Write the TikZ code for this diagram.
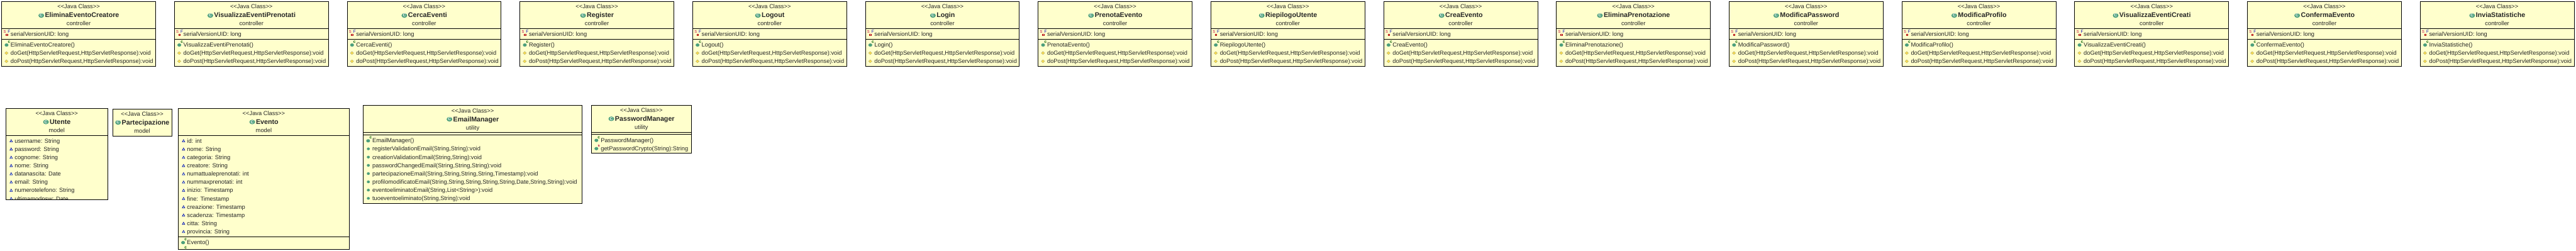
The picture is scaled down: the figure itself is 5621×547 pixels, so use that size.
\documentclass[tikz,border=0pt]{standalone}
\usepackage{fontspec}
\setmainfont{Liberation Sans}

\definecolor{boxyellow}{HTML}{FFFFCC}
\definecolor{icongreen}{HTML}{4C9F7C}
\definecolor{txtgray}{HTML}{262626}

\tikzset{
    classbox/.style={draw=black, fill=boxyellow, line width=1.1pt},
    sepline/.style={draw=black, line width=1.1pt},
    stereo/.style={anchor=base, inner sep=0pt, text=txtgray, font=\fontsize{12.8pt}{15pt}\selectfont},
    ctitle/.style={anchor=base, inner sep=0pt, text=black!85, font=\fontsize{14.7pt}{17pt}\selectfont\bfseries},
    member/.style={anchor=base west, inner sep=0pt, text=txtgray, font=\fontsize{12.8pt}{15pt}\selectfont},
    classicon/.pic={
        \fill[icongreen] (0,0) ellipse [x radius=6.2, y radius=5];
        \node[inner sep=0pt, text=white, font=\fontsize{9pt}{9pt}\selectfont\bfseries] (letter) at (0,0) {C};
    },
    fieldicon/.pic={
        \node[inner sep=0pt, text=purple, font=\fontsize{8pt}{8pt}\selectfont] (letter) at (-4,-5) {S};
        \node[inner sep=0pt, text=blue!70!black, font=\fontsize{9pt}{9pt}\selectfont] (flag) at (5.5,-5.8) {F};
        \draw[red!70!black, fill=white, line width=0.8pt] (-1.5,-0.5) rectangle (2,3);
    },
    ctoricon/.pic={
        \fill[icongreen] (0,0.5) ellipse [x radius=4.2, y radius=3.6];
        \node[inner sep=0pt, text=green!35!black, font=\fontsize{9pt}{9pt}\selectfont\bfseries] (letter) at (5.5,-6) {c};
    },
    staticicon/.pic={
        \fill[icongreen] (0,0.5) ellipse [x radius=4.2, y radius=3.6];
        \node[inner sep=0pt, text=purple, font=\fontsize{8pt}{8pt}\selectfont\bfseries] (letter) at (5.5,-5.5) {s};
    },
    protecticon/.pic={
        \draw[fill=yellow!70!orange!70, draw=yellow!50!black!70, line width=0.6pt] (-3.6,0) -- (0,-3.3) -- (3.6,0) -- (0,3.3) -- cycle;
    },
    packicon/.pic={
        \draw[fill=cyan!25, draw=blue!60!black, line width=0.8pt] (-2.8,2.3) -- (0,-2.8) -- (2.8,2.3) -- cycle;
    },
    publicicon/.pic={
        \fill[icongreen] (0,0) ellipse [x radius=3.3, y radius=3];
    }
}

\begin{document}
\begin{tikzpicture}[x=1pt, y=-1pt]
\useasboundingbox (0,0) rectangle (5621,547);

% controllers, top row
\foreach \i/\cname in {0/EliminaEventoCreatore,1/VisualizzaEventiPrenotati,2/CercaEventi,3/Register,4/Logout,5/Login,6/PrenotaEvento,7/RiepilogoUtente,8/CreaEvento,9/EliminaPrenotazione,10/ModificaPassword,11/ModificaProfilo,12/VisualizzaEventiCreati,13/ConfermaEvento,14/InviaStatistiche} {
    \pgfmathsetmacro{\bx}{3.6+376.95*\i}
    \draw[classbox] (\bx,3.3) rectangle ++(336,141);
    \draw[sepline] (\bx,62.3) -- ++(336,0);
    \draw[sepline] (\bx,85.3) -- ++(336,0);
    \node[stereo] (stereo\i) at (\bx+168,18.8) {<{}<Java Class>{}>};
    \node[ctitle] (title\i) at (\bx+175.5,38.3) {\cname};
    \pic at ([xshift=-8pt,yshift=-0.5pt]title\i.base west |- 0,33.3) {classicon};
    \node[stereo] (pack\i) at (\bx+168,56.2) {controller};
    \pic at (\bx+10.7,74.7) {fieldicon};
    \node[member] (field\i) at (\bx+19.5,79.2) {serialVersionUID: long};
    \pic at (\bx+10.7,97.7) {ctoricon};
    \node[member] (ctor\i) at (\bx+19.5,102.2) {\cname()};
    \pic at (\bx+10.5,115.7) {protecticon};
    \node[member] (get\i) at (\bx+19.5,120.2) {doGet(HttpServletRequest,HttpServletResponse):void};
    \pic at (\bx+10.5,133.7) {protecticon};
    \node[member] (post\i) at (\bx+19.5,138.2) {doPost(HttpServletRequest,HttpServletResponse):void};
}

% model and utility classes, bottom row
\foreach \j/\cname/\bx/\bw/\bt/\bh/\pname in {0/Utente/12.4/222.9/236.3/199/model,1/Partecipazione/245.8/128.8/237.3/59/model,2/Evento/388.5/374.2/236.3/307/model,3/EmailManager/792.3/478.1/230.3/213/utility,4/PasswordManager/1290.3/218.5/229.3/105/utility} {
    \draw[classbox] (\bx,\bt) rectangle ++(\bw,\bh);
    \draw[sepline] (\bx,\bt+59) -- ++(\bw,0);
    \node[stereo] (bstereo\j) at (\bx+\bw/2,\bt+15.5) {<{}<Java Class>{}>};
    \node[ctitle] (btitle\j) at (\bx+\bw/2+7.5,\bt+35) {\cname};
    \pic at ([xshift=-8pt]btitle\j.base west |- 0,\bt+29.8) {classicon};
    \node[stereo] (bpack\j) at (\bx+\bw/2,\bt+52.9) {\pname};
}

% attributes
\foreach \attr [count=\k from 0] in {username: String,password: String,cognome: String,nome: String,datanascita: Date,email: String,numerotelefono: String} {
    \pic at (12.4+12,307.3+18*\k) {packicon};
    \node[member] (uattr\k) at (12.4+19.5,311.8+18*\k) {\attr};
}
\begin{scope}
    \clip (12.4,420) rectangle (235.3,434);
    \pic at (12.4+12,433.3) {packicon};
    \node[member] (uattr7) at (12.4+19.5,437.8) {ultimamodpsw: Date};
\end{scope}
\foreach \attr [count=\k from 0] in {id: int,nome: String,categoria: String,creatore: String,numattualeprenotati: int,nummaxprenotati: int,inizio: Timestamp,fine: Timestamp,creazione: Timestamp,scadenza: Timestamp,citta: String,provincia: String} {
    \pic at (388.5+12,307.3+18*\k) {packicon};
    \node[member] (eattr\k) at (388.5+19.5,311.8+18*\k) {\attr};
}
\draw[sepline] (388.5,516) -- ++(374.2,0);
\pic at (388.5+11,528.7) {ctoricon};
\node[member] (ector) at (388.5+19.5,533.2) {Evento()};
\begin{scope}
    \clip (388.5,535) rectangle (762.7,542.7);
    \pic at (388.5+11,546.7) {ctoricon};
\end{scope}

% methods
\draw[sepline] (792.3,294) -- ++(478.1,0);
\pic at (792.3+11,306.7) {ctoricon};
\node[member] (mctor) at (792.3+20,311.2) {EmailManager()};
\foreach \meth [count=\k from 1] in {{registerValidationEmail(String,String):void},{creationValidationEmail(String,String):void},{passwordChangedEmail(String,String,String):void},{partecipazioneEmail(String,String,String,String,Timestamp):void},{profilomodificatoEmail(String,String,String,String,String,Date,String,String):void},{eventoeliminatoEmail(String,List<String>):void},{tuoeventoeliminato(String,String):void}} {
    \pic at (792.3+11.4,306.7+18*\k) {publicicon};
    \node[member] (meth\k) at (792.3+20,311.2+18*\k) {\meth};
}
\draw[sepline] (1290.3,293) -- ++(218.5,0);
\pic at (1290.3+11,305.7) {ctoricon};
\node[member] (pctor) at (1290.3+20.5,310.2) {PasswordManager()};
\pic at (1290.3+11,323.7) {staticicon};
\node[member] (pcrypt) at (1290.3+20.5,328.2) {getPasswordCrypto(String):String};
\end{tikzpicture}
\end{document}
